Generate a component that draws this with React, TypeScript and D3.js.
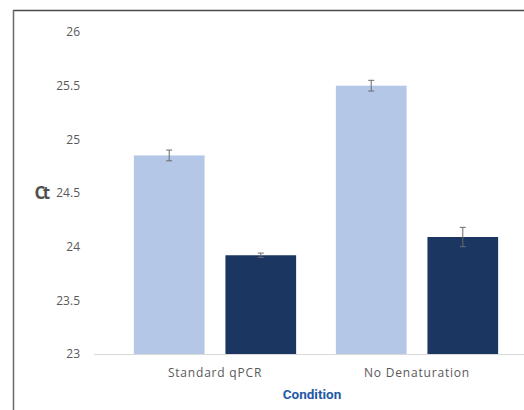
import React from "react";
import * as d3 from "d3";

const categories = ["Standard qPCR", "No Denaturation"];
const seriesNames = ["Series A", "Series B"];
const seriesA = [24.85, 25.5];
const seriesB = [23.92, 24.09];
const errorsA = [0.05, 0.05];
const errorsB = [0.02, 0.09];
const yTicks = [23, 23.5, 24, 24.5, 25, 25.5, 26];
const colors = ["#b4c7e7", "#1c3662"];

const W = 524;
const H = 410;

export default function App() {
  const y = d3.scaleLinear().domain([23, 26]).range([354, 32]);
  const x0 = d3.scaleBand<string>().domain(categories).range([114, 518]).paddingInner(0).paddingOuter(0);
  const x1 = d3
    .scaleBand<string>()
    .domain(seriesNames)
    .range([0, x0.bandwidth()])
    .paddingInner(0.228)
    .paddingOuter(0.217);

  const values = [seriesA, seriesB];
  const errors = [errorsA, errorsB];
  const fmt = d3.format("");

  return (
    <svg
      width={W}
      height={H}
      style={{ position: "absolute", left: 0, top: 0 }}
      fontFamily="'Open Sans', 'DejaVu Sans', sans-serif"
    >
      <rect x={0} y={0} width={W} height={H} fill="#fff" />
      {/* frame */}
      <line x1={13} y1={10.5} x2={W} y2={10.5} stroke="#4a4a4a" strokeWidth={1.5} />
      <line x1={13.5} y1={10} x2={13.5} y2={H} stroke="#6a6a6a" strokeWidth={1.5} />

      {/* y tick labels */}
      {yTicks.map((t) => (
        <text
          key={t}
          x={80}
          y={y(t)}
          dy="0.35em"
          textAnchor="end"
          fontSize={12}
          fill="#595959"
        >
          {fmt(t)}
        </text>
      ))}
      <text x={41} y={y(24.5)} dy="0.35em" textAnchor="middle" fontSize={17} fontWeight="bold" fill="#505050" letterSpacing={-2.5}>
        Ct
      </text>

      {/* bars */}
      {categories.map((c, ci) =>
        seriesNames.map((s, si) => {
          const v = values[si][ci];
          const e = errors[si][ci];
          const bx = (x0(c) as number) + (x1(s) as number);
          const bw = x1.bandwidth();
          const cx = bx + bw / 2;
          return (
            <g key={c + s}>
              <rect x={bx} y={y(v)} width={bw} height={y(23) - y(v)} fill={colors[si]} />
              <line x1={cx} x2={cx} y1={y(v + e)} y2={y(v - e)} stroke="#6b6b6b" strokeWidth={1} />
              <line x1={cx - 3} x2={cx + 3} y1={y(v + e)} y2={y(v + e)} stroke="#6b6b6b" strokeWidth={1} />
              <line x1={cx - 3} x2={cx + 3} y1={y(v - e)} y2={y(v - e)} stroke="#6b6b6b" strokeWidth={1} />
            </g>
          );
        })
      )}

      {/* baseline */}
      <line x1={94} x2={W} y1={y(23) + 0.5} y2={y(23) + 0.5} stroke="#d9d9d9" strokeWidth={1} />

      {/* category labels */}
      {categories.map((c) => (
        <text
          key={c}
          x={(x0(c) as number) + x0.bandwidth() / 2}
          y={373}
          dy="0.35em"
          textAnchor="middle"
          fontSize={12}
          letterSpacing={0.8}
          fill="#595959"
        >
          {c}
        </text>
      ))}
      <text x={312} y={394} dy="0.35em" textAnchor="middle" fontSize={13.5} fontWeight="bold" fill="#1f5aa6" fontFamily="Roboto, sans-serif">
        Condition
      </text>
    </svg>
  );
}
